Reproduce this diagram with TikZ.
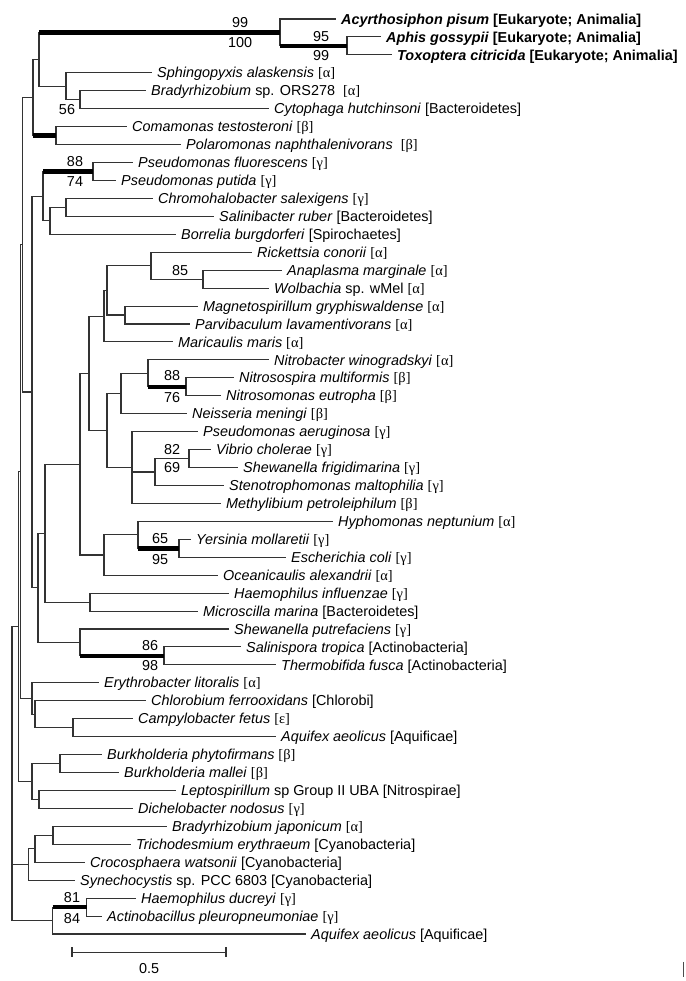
\documentclass[tikz,border=0pt]{standalone}
\usepackage{fontspec}
\setmainfont{Liberation Sans}
\newfontfamily\greekfont{Liberation Serif}
\newcommand{\grp}[1]{{\greekfont[#1]}}

\begin{document}
\begin{tikzpicture}[
        x=1pt, y=-17.94pt,
        % rows: leaf i sits on row i
        branch/.style={draw=black!80, line width=1.1pt},
        boot/.style={draw=black, line width=4.5pt},
        taxon/.style={anchor=west, inner xsep=5pt, inner ysep=0pt, text height=10.3pt, text depth=0pt, font=\fontsize{14.4}{17}\selectfont},
        aphid/.style={taxon, font=\fontsize{14.4}{17}\selectfont\bfseries},
        support/.style={inner sep=0pt, font=\fontsize{14.4}{17}\selectfont}
    ]
    \useasboundingbox (0,-0.059) rectangle (685,54.62);

    % 1. Taxa
    \node (acyr)   [aphid] at (336,1)  {\textit{Acyrthosiphon pisum} [Eukaryote; Animalia]};
    \node (aphis)  [aphid] at (381,2)  {\textit{Aphis gossypii} [Eukaryote; Animalia]};
    \node (toxo)   [aphid] at (392,3)  {\textit{Toxoptera citricida} [Eukaryote; Animalia]};
    \node (sphi)   [taxon] at (152,4)  {\textit{Sphingopyxis alaskensis} \grp{α}};
    \node (brado)  [taxon] at (146,5)  {\textit{Bradyrhizobium} sp. ORS278\ \ \grp{α}};
    \node (cyto)   [taxon] at (269,6)  {\textit{Cytophaga hutchinsoni} [Bacteroidetes]};
    \node (coma)   [taxon] at (127,7)  {\textit{Comamonas testosteroni} \grp{β}};
    \node (polar)  [taxon] at (181,8)  {\textit{Polaromonas naphthalenivorans}\ \ \grp{β}};
    \node (pfluo)  [taxon] at (133,9)  {\textit{Pseudomonas fluorescens} \grp{γ}};
    \node (pputi)  [taxon] at (116,10) {\textit{Pseudomonas putida} \grp{γ}};
    \node (chromo) [taxon] at (153,11) {\textit{Chromohalobacter salexigens} \grp{γ}};
    \node (salini) [taxon] at (214,12) {\textit{Salinibacter ruber} [Bacteroidetes]};
    \node (borr)   [taxon] at (176,13) {\textit{Borrelia burgdorferi} [Spirochaetes]};
    \node (rick)   [taxon] at (252,14) {\textit{Rickettsia conorii} \grp{α}};
    \node (anapl)  [taxon] at (282,15) {\textit{Anaplasma marginale} \grp{α}};
    \node (wolb)   [taxon] at (269,16) {\textit{Wolbachia} sp. wMel \grp{α}};
    \node (magn)   [taxon] at (198,17) {\textit{Magnetospirillum gryphiswaldense} \grp{α}};
    \node (parvi)  [taxon] at (190,18) {\textit{Parvibaculum lavamentivorans} \grp{α}};
    \node (maric)  [taxon] at (173,19) {\textit{Maricaulis maris} \grp{α}};
    \node (nbact)  [taxon] at (269,20) {\textit{Nitrobacter winogradskyi} \grp{α}};
    \node (nspira) [taxon] at (234,21) {\textit{Nitrosospira multiformis} \grp{β}};
    \node (nmonas) [taxon] at (221,22) {\textit{Nitrosomonas eutropha} \grp{β}};
    \node (neiss)  [taxon] at (187,23) {\textit{Neisseria meningi} \grp{β}};
    \node (paeru)  [taxon] at (198,24) {\textit{Pseudomonas aeruginosa} \grp{γ}};
    \node (vibrio) [taxon] at (211,25) {\textit{Vibrio cholerae} \grp{γ}};
    \node (shefr)  [taxon] at (238,26) {\textit{Shewanella frigidimarina} \grp{γ}};
    \node (steno)  [taxon] at (224,27) {\textit{Stenotrophomonas maltophilia} \grp{γ}};
    \node (methyl) [taxon] at (221,28) {\textit{Methylibium petroleiphilum} \grp{β}};
    \node (hypho)  [taxon] at (333,29) {\textit{Hyphomonas neptunium} \grp{α}};
    \node (yers)   [taxon] at (191,30) {\textit{Yersinia mollaretii} \grp{γ}};
    \node (ecoli)  [taxon] at (286,31) {\textit{Escherichia coli} \grp{γ}};
    \node (ocean)  [taxon] at (218,32) {\textit{Oceanicaulis alexandrii} \grp{α}};
    \node (hinfl)  [taxon] at (229,33) {\textit{Haemophilus influenzae} \grp{γ}};
    \node (micro)  [taxon] at (198,34) {\textit{Microscilla marina} [Bacteroidetes]};
    \node (shepu)  [taxon] at (229,35) {\textit{Shewanella putrefaciens} \grp{γ}};
    \node (salsp)  [taxon] at (241,36) {\textit{Salinispora tropica} [Actinobacteria]};
    \node (thermo) [taxon] at (276,37) {\textit{Thermobifida fusca} [Actinobacteria]};
    \node (eryth)  [taxon] at (99,38)  {\textit{Erythrobacter litoralis} \grp{α}};
    \node (chlor)  [taxon] at (146,39) {\textit{Chlorobium ferrooxidans} [Chlorobi]};
    \node (campy)  [taxon] at (133,40) {\textit{Campylobacter fetus} \grp{ε}};
    \node (aquia)  [taxon] at (276,41) {\textit{Aquifex aeolicus} [Aquificae]};
    \node (burph)  [taxon] at (102,42) {\textit{Burkholderia phytofirmans} \grp{β}};
    \node (burma)  [taxon] at (119,43) {\textit{Burkholderia mallei} \grp{β}};
    \node (lepto)  [taxon] at (176,44) {\textit{Leptospirillum} sp Group II UBA [Nitrospirae]};
    \node (diche)  [taxon] at (133,45) {\textit{Dichelobacter nodosus} \grp{γ}};
    \node (bradj)  [taxon] at (167,46) {\textit{Bradyrhizobium japonicum} \grp{α}};
    \node (tricho) [taxon] at (131,47) {\textit{Trichodesmium erythraeum} [Cyanobacteria]};
    \node (croco)  [taxon] at (85,48)  {\textit{Crocosphaera watsonii} [Cyanobacteria]};
    \node (synec)  [taxon] at (75,49)  {\textit{Synechocystis} sp. PCC 6803 [Cyanobacteria]};
    \node (hducr)  [taxon] at (136,50) {\textit{Haemophilus ducreyi} \grp{γ}};
    \node (actin)  [taxon] at (102,51) {\textit{Actinobacillus pleuropneumoniae} \grp{γ}};
    \node (aquib)  [taxon] at (306,52) {\textit{Aquifex aeolicus} [Aquificae]};

    % 2. Internal nodes (x = branch point, row = middle of children)
    \coordinate (nAphB) at (347,2.5);
    \coordinate (nAph)  at (280,1.75);
    \coordinate (nBra)  at (80,5.5);
    \coordinate (nSph)  at (66,4.75);
    \coordinate (nTop)  at (39,3.25);
    \coordinate (nCom)  at (56,7.5);
    \coordinate (nA)    at (33,5.375);
    \coordinate (nPse)  at (93,9.5);
    \coordinate (nChr)  at (66,11.5);
    \coordinate (nChB)  at (50,12.25);
    \coordinate (nPs)   at (43,10.875);
    \coordinate (nAna)  at (203,15.5);
    \coordinate (nRic)  at (151,14.75);
    \coordinate (nMag)  at (125,17.5);
    \coordinate (nAlp)  at (107,16.125);
    \coordinate (nMar)  at (104,17.5625);
    \coordinate (nNso)  at (186,21.5);
    \coordinate (nNba)  at (148,20.75);
    \coordinate (nNit)  at (121,21.875);
    \coordinate (nVib)  at (189,25.5);
    \coordinate (nSte)  at (155,26.25);
    \coordinate (nPae)  at (132,26);
    \coordinate (nBet)  at (107,23.94);
    \coordinate (nMid)  at (89,20.75);
    \coordinate (nYer)  at (179,30.5);
    \coordinate (nHyp)  at (138,29.75);
    \coordinate (nOce)  at (104,30.875);
    \coordinate (nBig)  at (80,25.81);
    \coordinate (nHae)  at (90,33.5);
    \coordinate (nHIn)  at (45,29.66);
    \coordinate (nSal)  at (164,36.5);
    \coordinate (nShe)  at (80,35.75);
    \coordinate (nGam)  at (38,32.7);
    \coordinate (nPro)  at (32,21.79);
    \coordinate (nUp)   at (22.5,13.58);
    \coordinate (nCam)  at (73,40.5);
    \coordinate (nChl)  at (35,39.75);
    \coordinate (nEry)  at (32,38.875);
    \coordinate (nUpper) at (20.7,26.23);
    \coordinate (nBur)  at (60,42.5);
    \coordinate (nLep)  at (39,44.5);
    \coordinate (nBL)   at (32,43.5);
    \coordinate (nMain) at (18.5,34.87);
    \coordinate (nBja)  at (53,46.5);
    \coordinate (nCro)  at (35,47.25);
    \coordinate (nCya)  at (28.5,48.125);
    \coordinate (nHdu)  at (86.5,50.5);
    \coordinate (nHdA)  at (52.5,51.25);
    \coordinate (root)  at (12,43.06);

    % 3. Branches, clade by clade
    \draw [branch] (nAphB) |- (aphis.west) (nAphB) |- (toxo.west);
    \draw [branch] (nAph) |- (acyr.west) (nAph) |- (nAphB);
    \draw [branch] (nBra) |- (brado.west) (nBra) |- (cyto.west);
    \draw [branch] (nSph) |- (sphi.west) (nSph) |- (nBra);
    \draw [branch] (nTop) |- (nAph) (nTop) |- (nSph);
    \draw [branch] (nCom) |- (coma.west) (nCom) |- (polar.west);
    \draw [branch] (nA) |- (nTop) (nA) |- (nCom);
    \draw [branch] (nPse) |- (pfluo.west) (nPse) |- (pputi.west);
    \draw [branch] (nChr) |- (chromo.west) (nChr) |- (salini.west);
    \draw [branch] (nChB) |- (nChr) (nChB) |- (borr.west);
    \draw [branch] (nPs) |- (nPse) (nPs) |- (nChB);

    \draw [branch] (nAna) |- (anapl.west) (nAna) |- (wolb.west);
    \draw [branch] (nRic) |- (rick.west) (nRic) |- (nAna);
    \draw [branch] (nMag) |- (magn.west) (nMag) |- (parvi.west);
    \draw [branch] (nAlp) |- (nRic) (nAlp) |- (nMag);
    \draw [branch] (nMar) |- (nAlp) (nMar) |- (maric.west);
    \draw [branch] (nNso) |- (nspira.west) (nNso) |- (nmonas.west);
    \draw [branch] (nNba) |- (nbact.west) (nNba) |- (nNso);
    \draw [branch] (nNit) |- (nNba) (nNit) |- (neiss.west);
    \draw [branch] (nVib) |- (vibrio.west) (nVib) |- (shefr.west);
    \draw [branch] (nSte) |- (nVib) (nSte) |- (steno.west);
    \draw [branch] (nPae) |- (paeru.west) (nPae) |- (nSte) (nPae) |- (methyl.west);
    \draw [branch] (nBet) |- (nNit) (nBet) |- (nPae);
    \draw [branch] (nMid) |- (nMar) (nMid) |- (nBet);
    \draw [branch] (nYer) |- (yers.west) (nYer) |- (ecoli.west);
    \draw [branch] (nHyp) |- (hypho.west) (nHyp) |- (nYer);
    \draw [branch] (nOce) |- (nHyp) (nOce) |- (ocean.west);
    \draw [branch] (nBig) |- (nMid) (nBig) |- (nOce);
    \draw [branch] (nHae) |- (hinfl.west) (nHae) |- (micro.west);
    \draw [branch] (nHIn) |- (nBig) (nHIn) |- (nHae);
    \draw [branch] (nSal) |- (salsp.west) (nSal) |- (thermo.west);
    \draw [branch] (nShe) |- (shepu.west) (nShe) |- (nSal);
    \draw [branch] (nGam) |- (nHIn) (nGam) |- (nShe);
    \draw [branch] (nPro) |- (nPs) (nPro) |- (nGam);
    \draw [branch] (nUp) |- (nA) (nUp) |- (nPro);

    \draw [branch] (nCam) |- (campy.west) (nCam) |- (aquia.west);
    \draw [branch] (nChl) |- (chlor.west) (nChl) |- (nCam);
    \draw [branch] (nEry) |- (eryth.west) (nEry) |- (nChl);
    \draw [branch] (nUpper) |- (nUp) (nUpper) |- (nEry);
    \draw [branch] (nBur) |- (burph.west) (nBur) |- (burma.west);
    \draw [branch] (nLep) |- (lepto.west) (nLep) |- (diche.west);
    \draw [branch] (nBL) |- (nBur) (nBL) |- (nLep);
    \draw [branch] (nMain) |- (nUpper) (nMain) |- (nBL);
    \draw [branch] (nBja) |- (bradj.west) (nBja) |- (tricho.west);
    \draw [branch] (nCro) |- (nBja) (nCro) |- (croco.west);
    \draw [branch] (nCya) |- (nCro) (nCya) |- (synec.west);
    \draw [branch] (nHdu) |- (hducr.west) (nHdu) |- (actin.west);
    \draw [branch] (nHdA) |- (nHdu) (nHdA) |- (aquib.west);
    \draw [branch] (root) |- (nMain) (root) |- (nCya) (root) |- (nHdA);

    % 4. Well supported branches
    \draw [boot] (nTop |- nAph) -- (nAph);
    \draw [boot] (nAph |- nAphB) -- (nAphB);
    \draw [boot] (nA |- nCom) -- (nCom);
    \draw [boot] (nPs |- nPse) -- (nPse);
    \draw [boot] (nNba |- nNso) -- (nNso);
    \draw [boot] (nHyp |- nYer) -- (nYer);
    \draw [boot] (nShe |- nSal) -- (nSal);
    \draw [boot] (nHdA |- nHdu) -- (nHdu);

    % 5. Bootstrap values
    \node (s1a)  [support] at (240,1.2)   {99};
    \node (s1b)  [support] at (240,2.3)   {100};
    \node (s2a)  [support] at (321,1.95)  {95};
    \node (s2b)  [support] at (321,3.05)  {99};
    \node (s3)   [support] at (67,6.07)   {56};
    \node (s4a)  [support] at (75,8.95)   {88};
    \node (s4b)  [support] at (75,10.05)  {74};
    \node (s5)   [support] at (180,15.0)  {85};
    \node (s6a)  [support] at (172,20.88) {88};
    \node (s6b)  [support] at (172,22.1)  {76};
    \node (s7a)  [support] at (172,25.0)  {82};
    \node (s7b)  [support] at (172,25.98) {69};
    \node (s8a)  [support] at (160,29.93) {65};
    \node (s8b)  [support] at (160,31.12) {95};
    \node (s9a)  [support] at (150,35.93) {86};
    \node (s9b)  [support] at (150,37.05) {98};
    \node (s10a) [support] at (72,49.96)  {81};
    \node (s10b) [support] at (72,51.15)  {84};

    % 6. Scale bar
    \coordinate (sbl) at (72,53.01);
    \coordinate (sbr) at (226,53.01);
    \draw [branch] (sbl) -- (sbr);
    \draw [branch] ([yshift=5pt]sbl) -- ([yshift=-5pt]sbl);
    \draw [branch] ([yshift=5pt]sbr) -- ([yshift=-5pt]sbr);
    \node (sblab) [support] at (149,53.9) {0.5};

    % stray mark, bottom right
    \coordinate (mtop) at (683,53.56);
    \coordinate (mbot) at (683,54.4);
    \draw [draw=black!70, line width=0.8pt] (mtop) -- (mbot);

\end{tikzpicture}
\end{document}
